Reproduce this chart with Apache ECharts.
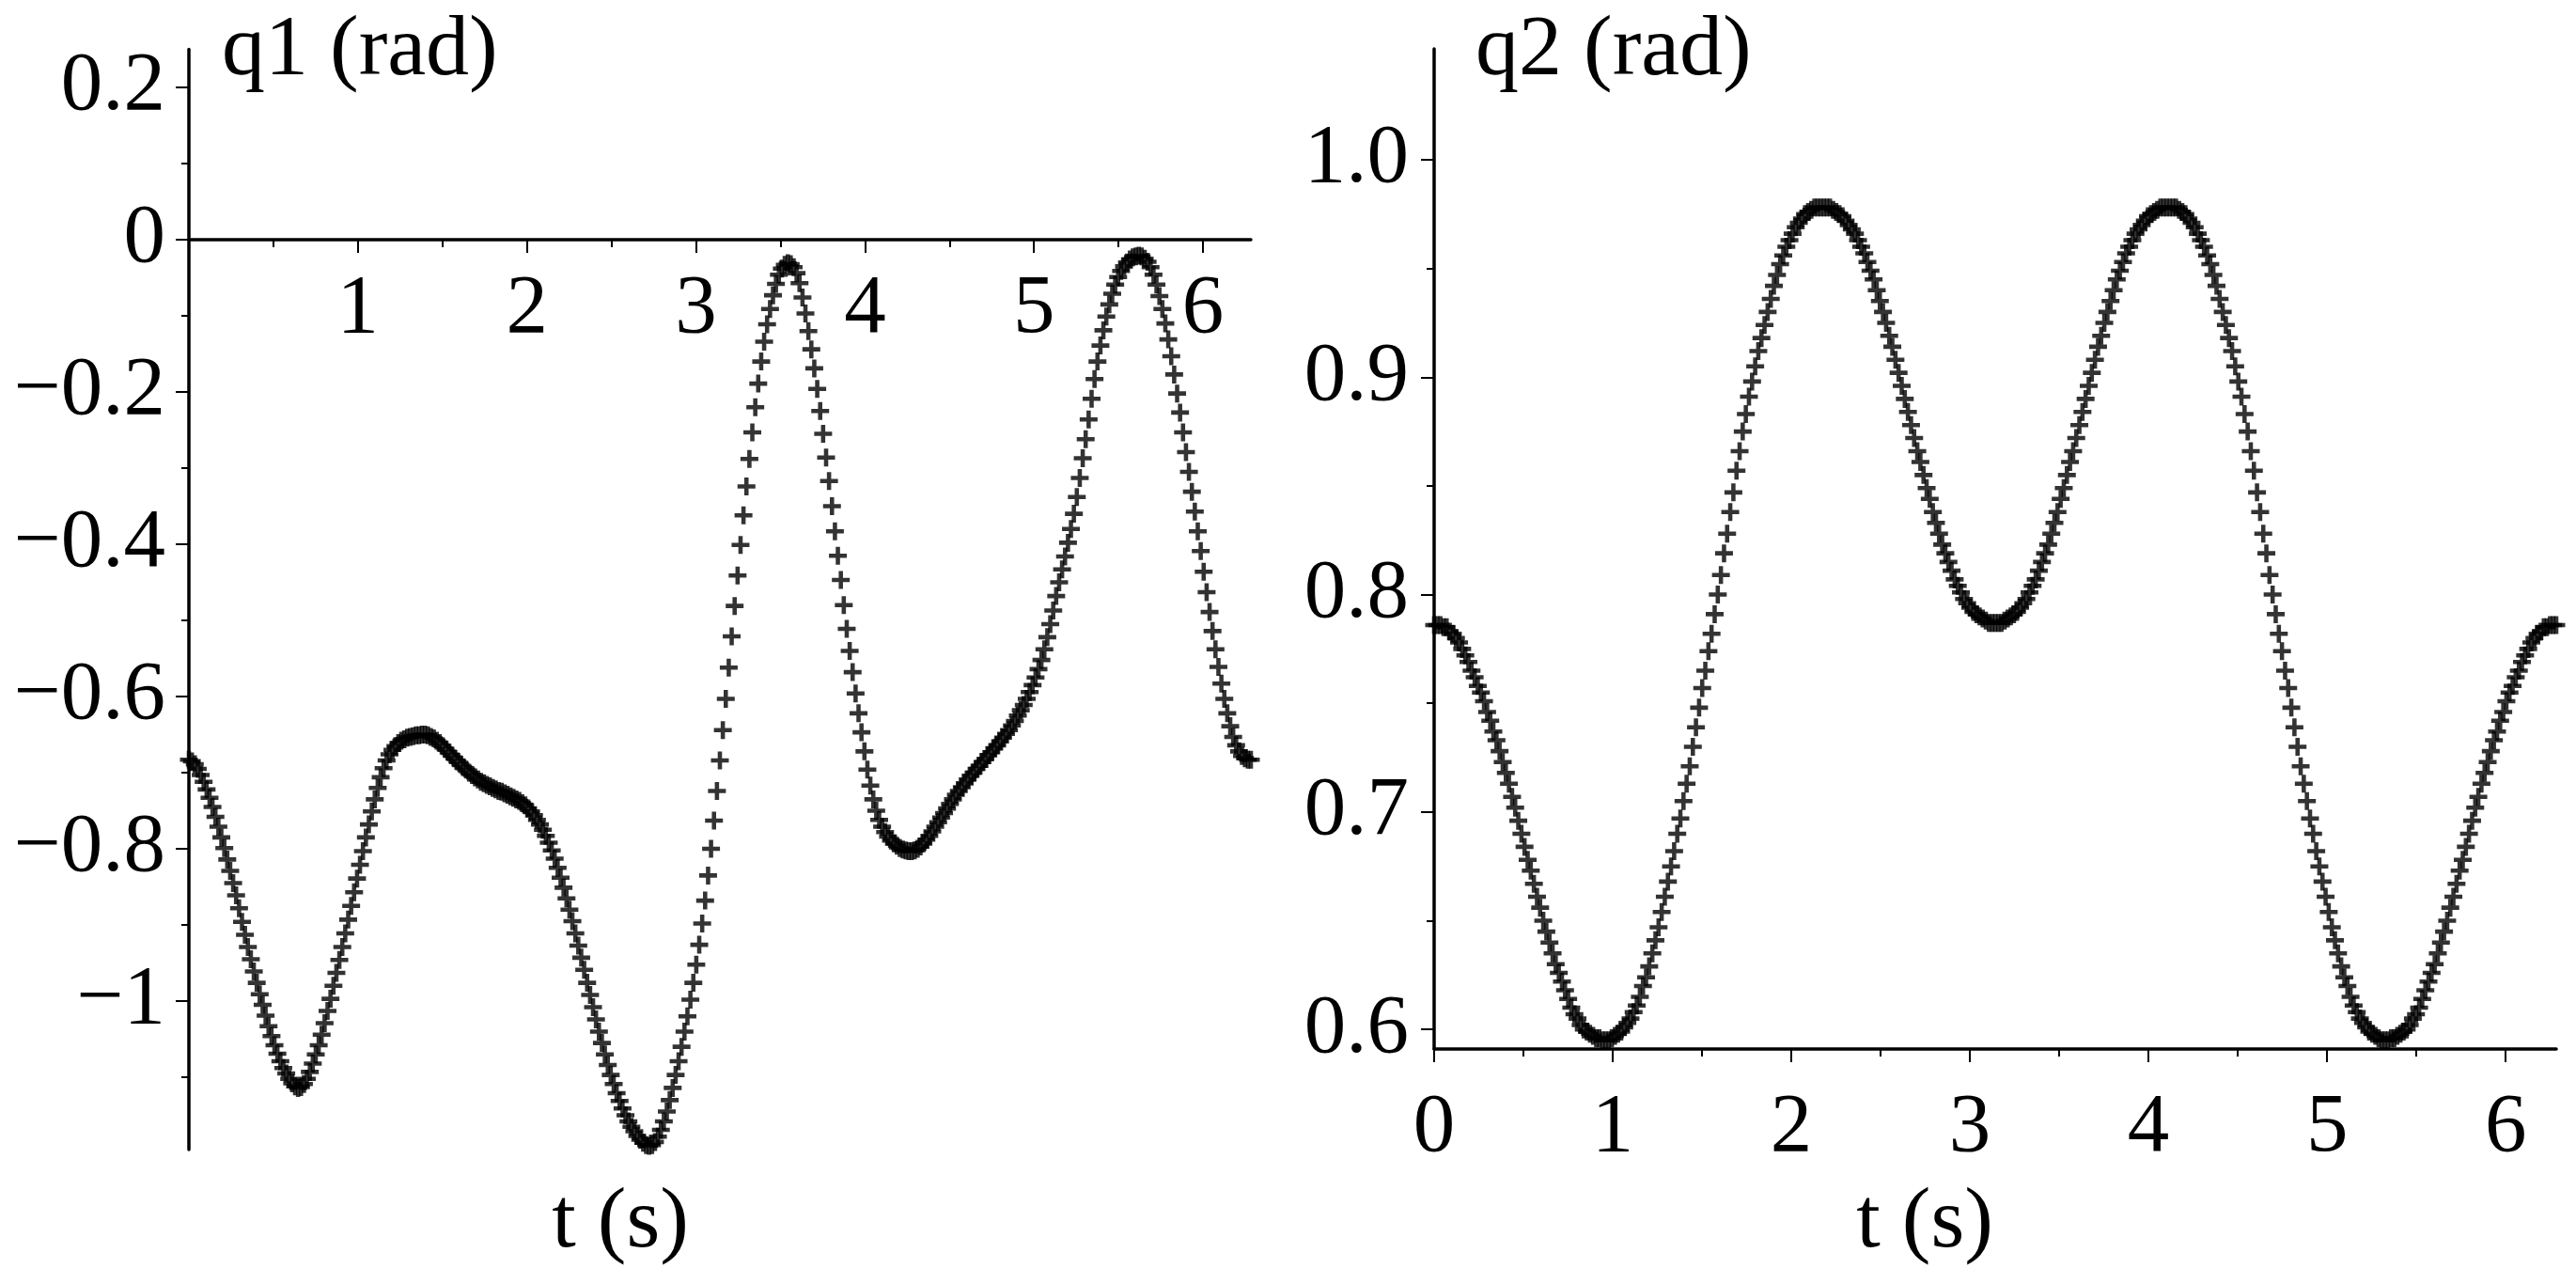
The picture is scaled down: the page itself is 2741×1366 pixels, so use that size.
<!DOCTYPE html>
<html>
<head>
<meta charset="utf-8">
<script src="https://cdn.jsdelivr.net/npm/echarts@6/dist/echarts.min.js"></script>
<style>
html,body{margin:0;padding:0;background:#fff;}
#chart{width:2741px;height:1366px;}
</style>
</head>
<body>
<div id="chart"></div>
<script>
const q1 = [
-0.683,-0.685,-0.689,-0.695,-0.703,-0.712,-0.722,-0.733,-0.745,-0.758,
-0.771,-0.785,-0.799,-0.814,-0.829,-0.845,-0.861,-0.878,-0.896,-0.913,
-0.929,-0.945,-0.961,-0.976,-0.991,-1.005,-1.019,-1.033,-1.046,-1.058,
-1.069,-1.079,-1.088,-1.095,-1.102,-1.108,-1.112,-1.114,-1.113,-1.109,
-1.102,-1.093,-1.082,-1.070,-1.058,-1.044,-1.029,-1.013,-0.997,-0.980,
-0.963,-0.946,-0.929,-0.911,-0.893,-0.875,-0.857,-0.839,-0.821,-0.803,
-0.785,-0.768,-0.751,-0.735,-0.720,-0.706,-0.694,-0.684,-0.676,-0.670,
-0.665,-0.661,-0.658,-0.656,-0.654,-0.653,-0.652,-0.651,-0.651,-0.650,
-0.650,-0.651,-0.653,-0.655,-0.658,-0.661,-0.665,-0.669,-0.673,-0.677,
-0.681,-0.685,-0.689,-0.693,-0.696,-0.700,-0.703,-0.706,-0.709,-0.712,
-0.714,-0.716,-0.718,-0.720,-0.722,-0.724,-0.725,-0.727,-0.729,-0.731,
-0.733,-0.735,-0.737,-0.740,-0.743,-0.747,-0.751,-0.756,-0.762,-0.768,
-0.775,-0.783,-0.792,-0.802,-0.813,-0.825,-0.838,-0.851,-0.865,-0.880,
-0.895,-0.911,-0.927,-0.943,-0.959,-0.976,-0.992,-1.008,-1.024,-1.040,
-1.055,-1.070,-1.084,-1.097,-1.109,-1.121,-1.131,-1.141,-1.150,-1.158,
-1.165,-1.171,-1.177,-1.182,-1.186,-1.189,-1.190,-1.189,-1.185,-1.178,
-1.169,-1.158,-1.145,-1.130,-1.114,-1.097,-1.079,-1.060,-1.040,-1.020,
-0.998,-0.976,-0.952,-0.926,-0.898,-0.868,-0.835,-0.800,-0.763,-0.724,
-0.684,-0.644,-0.603,-0.562,-0.521,-0.481,-0.441,-0.401,-0.362,-0.324,
-0.288,-0.253,-0.220,-0.189,-0.160,-0.134,-0.111,-0.091,-0.073,-0.058,
-0.046,-0.038,-0.033,-0.031,-0.032,-0.036,-0.044,-0.057,-0.076,-0.097,
-0.120,-0.144,-0.169,-0.196,-0.225,-0.255,-0.286,-0.317,-0.350,-0.383,
-0.415,-0.447,-0.480,-0.511,-0.540,-0.568,-0.596,-0.622,-0.647,-0.672,
-0.696,-0.717,-0.735,-0.750,-0.762,-0.771,-0.778,-0.784,-0.789,-0.793,
-0.796,-0.799,-0.801,-0.802,-0.803,-0.803,-0.802,-0.800,-0.797,-0.793,
-0.788,-0.783,-0.777,-0.771,-0.765,-0.759,-0.753,-0.747,-0.741,-0.735,
-0.729,-0.724,-0.719,-0.714,-0.709,-0.704,-0.700,-0.695,-0.691,-0.686,
-0.682,-0.677,-0.673,-0.668,-0.664,-0.659,-0.654,-0.649,-0.644,-0.638,
-0.632,-0.625,-0.618,-0.611,-0.603,-0.594,-0.585,-0.575,-0.564,-0.552,
-0.538,-0.522,-0.505,-0.487,-0.468,-0.450,-0.433,-0.416,-0.398,-0.380,
-0.360,-0.338,-0.313,-0.287,-0.262,-0.236,-0.209,-0.183,-0.160,-0.139,
-0.119,-0.101,-0.085,-0.071,-0.059,-0.049,-0.041,-0.035,-0.030,-0.026,
-0.023,-0.022,-0.021,-0.022,-0.025,-0.029,-0.036,-0.046,-0.059,-0.074,
-0.091,-0.110,-0.131,-0.153,-0.177,-0.202,-0.227,-0.253,-0.279,-0.305,
-0.331,-0.357,-0.383,-0.409,-0.436,-0.463,-0.489,-0.514,-0.538,-0.561,
-0.583,-0.603,-0.622,-0.639,-0.653,-0.664,-0.672,-0.678,-0.681,-0.683,
-0.683
];

// q2(t) in rad, same sampling
const q2 = [
0.786,0.786,0.786,0.785,0.785,0.783,0.782,0.780,0.778,0.775,
0.772,0.769,0.765,0.762,0.758,0.755,0.751,0.746,0.742,0.737,
0.733,0.728,0.723,0.718,0.713,0.707,0.702,0.696,0.690,0.684,
0.678,0.673,0.667,0.661,0.656,0.650,0.645,0.640,0.635,0.630,
0.626,0.622,0.618,0.614,0.610,0.607,0.605,0.602,0.600,0.599,
0.598,0.597,0.596,0.596,0.595,0.595,0.595,0.596,0.597,0.598,
0.599,0.601,0.603,0.605,0.608,0.611,0.615,0.620,0.624,0.629,
0.635,0.641,0.647,0.654,0.661,0.668,0.675,0.682,0.690,0.697,
0.705,0.713,0.721,0.730,0.739,0.748,0.757,0.765,0.774,0.782,
0.791,0.800,0.809,0.819,0.828,0.838,0.847,0.857,0.866,0.875,
0.883,0.891,0.898,0.905,0.912,0.918,0.924,0.930,0.936,0.942,
0.947,0.952,0.956,0.960,0.963,0.966,0.969,0.971,0.973,0.975,
0.976,0.977,0.978,0.978,0.978,0.978,0.978,0.978,0.977,0.976,
0.975,0.974,0.972,0.970,0.968,0.966,0.963,0.960,0.957,0.953,
0.949,0.945,0.940,0.935,0.930,0.925,0.919,0.914,0.908,0.902,
0.896,0.890,0.884,0.878,0.872,0.866,0.861,0.855,0.849,0.844,
0.838,0.833,0.828,0.823,0.819,0.815,0.811,0.807,0.804,0.801,
0.798,0.796,0.794,0.792,0.791,0.790,0.789,0.788,0.787,0.787,
0.787,0.787,0.787,0.788,0.789,0.790,0.791,0.792,0.794,0.796,
0.798,0.801,0.804,0.807,0.811,0.815,0.819,0.823,0.828,0.833,
0.838,0.844,0.849,0.855,0.861,0.866,0.872,0.878,0.884,0.890,
0.896,0.902,0.908,0.914,0.919,0.925,0.930,0.935,0.940,0.945,
0.949,0.953,0.957,0.960,0.963,0.966,0.968,0.970,0.972,0.974,
0.975,0.976,0.977,0.978,0.978,0.978,0.978,0.978,0.978,0.977,
0.976,0.975,0.973,0.971,0.969,0.966,0.963,0.960,0.956,0.952,
0.947,0.942,0.936,0.930,0.924,0.918,0.912,0.905,0.898,0.891,
0.883,0.875,0.866,0.857,0.847,0.838,0.828,0.819,0.809,0.800,
0.791,0.782,0.774,0.765,0.757,0.748,0.739,0.730,0.721,0.713,
0.705,0.697,0.690,0.682,0.675,0.668,0.661,0.654,0.647,0.641,
0.635,0.629,0.624,0.620,0.615,0.611,0.608,0.605,0.603,0.601,
0.599,0.598,0.597,0.596,0.595,0.595,0.595,0.596,0.596,0.597,
0.598,0.599,0.600,0.602,0.605,0.607,0.610,0.614,0.618,0.622,
0.626,0.630,0.635,0.640,0.645,0.650,0.656,0.661,0.667,0.673,
0.678,0.684,0.690,0.696,0.702,0.707,0.713,0.718,0.723,0.728,
0.733,0.737,0.742,0.746,0.751,0.755,0.758,0.762,0.765,0.769,
0.772,0.775,0.778,0.780,0.782,0.783,0.785,0.785,0.786,0.786,
0.786
];

// sample times: uniform grid over [0, 2*pi], one sample per value
const T_END = 2 * Math.PI;
const tSamples = q1.map((_, i) => i * T_END / (q1.length - 1));

// axis ticks / labels
const tMajorTicks = [0, 1, 2, 3, 4, 5, 6];
const tMinorTicks = [0.5, 1.5, 2.5, 3.5, 4.5, 5.5];
const tLabelsLeft = [1, 2, 3, 4, 5, 6];
const tLabelsRight = [0, 1, 2, 3, 4, 5, 6];
const q1MajorTicks = [-1.0, -0.8, -0.6, -0.4, -0.2, 0, 0.2];
const q1MinorTicks = [-1.1, -0.9, -0.7, -0.5, -0.3, -0.1, 0.1];
const q2MajorTicks = [0.6, 0.7, 0.8, 0.9, 1.0];
const q2MinorTicks = [0.65, 0.75, 0.85, 0.95];

const q1Range = [-1.195, 0.25];
const q2Range = [0.591, 1.051];

const FONT = 'Liberation Serif';
const INK = '#000';
const TICK_FS = 89;
const TITLE_FS = 92;
const PLUS = 'path://M38,0H62V38H100V62H62V100H38V62H0V38H38Z';

// layout of the two plot boxes
const G1 = { left: 201, top: 52.5, width: 1130, height: 1170.5 };
const G2 = { left: 1526, top: 52, width: 1194, height: 1064 };
// the t axis of the left panel crosses at q1 = 0: move it up from the bottom edge
const zeroLift = G1.height * (0 - q1Range[0]) / (q1Range[1] - q1Range[0]);

function fmtQ1(v) {
  if (Math.abs(v) < 1e-9) return '0';
  const a = Math.abs(v);
  const s = Math.abs(a - Math.round(a)) < 1e-9 ? String(Math.round(a)) : a.toFixed(1);
  return (v < 0 ? '\u2212' : '') + s;
}

function majorAxis(gridIndex, min, max, position, offset, ticks, labels, margin, formatter) {
  return {
    gridIndex, type: 'value', min, max, position, offset,
    axisLine: { show: true, onZero: false, lineStyle: { color: INK, width: 3.5 } },
    axisTick: { show: true, inside: false, length: 14, customValues: ticks, lineStyle: { color: INK, width: 2 } },
    axisLabel: { show: true, customValues: labels, margin, fontSize: TICK_FS, fontFamily: FONT, color: INK, formatter },
    splitLine: { show: false }, minorTick: { show: false }
  };
}
function minorAxis(gridIndex, min, max, position, offset, ticks) {
  return {
    gridIndex, type: 'value', min, max, position, offset,
    axisLine: { show: false, onZero: false },
    axisTick: { show: true, inside: false, length: 8, customValues: ticks, lineStyle: { color: INK, width: 2 } },
    axisLabel: { show: false },
    splitLine: { show: false }
  };
}

const chart = echarts.init(document.getElementById('chart'), null, { renderer: 'canvas' });
chart.setOption({
  backgroundColor: '#fff',
  animation: false,
  grid: [
    Object.assign({ outerBoundsMode: 'none' }, G1),
    Object.assign({ outerBoundsMode: 'none' }, G2)
  ],
  xAxis: [
    majorAxis(0, 0, T_END, 'bottom', -zeroLift, tMajorTicks, tLabelsLeft, 30, v => String(Math.round(v))),
    minorAxis(0, 0, T_END, 'bottom', -zeroLift, tMinorTicks),
    majorAxis(1, 0, T_END, 'bottom', 0, tMajorTicks, tLabelsRight, 40, v => String(Math.round(v))),
    minorAxis(1, 0, T_END, 'bottom', 0, tMinorTicks)
  ],
  yAxis: [
    majorAxis(0, q1Range[0], q1Range[1], 'left', 0, q1MajorTicks, q1MajorTicks, 25, fmtQ1),
    minorAxis(0, q1Range[0], q1Range[1], 'left', 0, q1MinorTicks),
    majorAxis(1, q2Range[0], q2Range[1], 'left', 0, q2MajorTicks, q2MajorTicks, 27, v => v.toFixed(1)),
    minorAxis(1, q2Range[0], q2Range[1], 'left', 0, q2MinorTicks)
  ],
  graphic: [
    { type: 'text', x: 236, y: 55, style: { text: 'q1 (rad)', fontSize: TITLE_FS, fontFamily: FONT, fill: INK, align: 'left', verticalAlign: 'middle' } },
    { type: 'text', x: 1570, y: 55, style: { text: 'q2 (rad)', fontSize: TITLE_FS, fontFamily: FONT, fill: INK, align: 'left', verticalAlign: 'middle' } },
    { type: 'text', x: 660, y: 1302, style: { text: 't (s)', fontSize: TITLE_FS, fontFamily: FONT, fill: INK, align: 'center', verticalAlign: 'middle' } },
    { type: 'text', x: 2048, y: 1302, style: { text: 't (s)', fontSize: TITLE_FS, fontFamily: FONT, fill: INK, align: 'center', verticalAlign: 'middle' } }
  ],
  series: [
    {
      name: 'q1', type: 'scatter', xAxisIndex: 0, yAxisIndex: 0,
      data: tSamples.map((t, i) => [t, q1[i]]),
      symbol: PLUS, symbolSize: 19, itemStyle: { color: INK }, clip: false, silent: true
    },
    {
      name: 'q2', type: 'scatter', xAxisIndex: 2, yAxisIndex: 2,
      data: tSamples.map((t, i) => [t, q2[i]]),
      symbol: PLUS, symbolSize: 19, itemStyle: { color: INK }, clip: false, silent: true
    }
  ]
});
</script>
</body>
</html>
